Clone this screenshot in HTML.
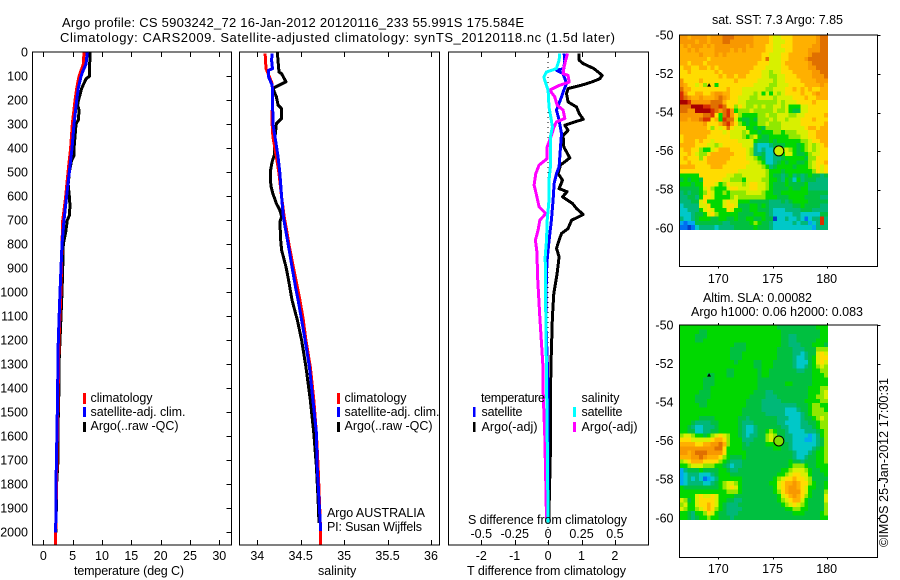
<!DOCTYPE html>
<html lang="en">
<head>
<meta charset="utf-8">
<title>Argo profile CS 5903242_72</title>
<style>
html,body{margin:0;padding:0;background:#fff;}
svg{display:block;}
text{font-family:"Liberation Sans",sans-serif;font-size:12.5px;fill:#000;}
text.big{font-size:13px;}
.frame{fill:none;stroke:#000;stroke-width:1.4;shape-rendering:crispEdges;}
</style>
</head>
<body>
<svg id="chart" xmlns="http://www.w3.org/2000/svg" width="900" height="580" viewBox="0 0 900 580">
<rect x="0" y="0" width="900" height="580" fill="#fff"/>
<text class="big" x="62" y="27" textLength="462" lengthAdjust="spacing">Argo profile: CS 5903242_72 16-Jan-2012 20120116_233 55.991S 175.584E</text>
<text class="big" x="60" y="42" textLength="555" lengthAdjust="spacing">Climatology: CARS2009. Satellite-adjusted climatology: synTS_20120118.nc (1.5d later)</text>
<text x="74" y="575" textLength="110" lengthAdjust="spacing">temperature (deg C)</text>
<text x="318" y="575">salinity</text>
<text x="467" y="575" textLength="159" lengthAdjust="spacing">T difference from climatology</text>
<text x="468" y="524" textLength="159" lengthAdjust="spacing">S difference from climatology</text>
<text x="327" y="517" textLength="98" lengthAdjust="spacing">Argo AUSTRALIA</text>
<text x="327" y="531" textLength="95" lengthAdjust="spacing">PI: Susan Wijffels</text>
<text x="712" y="24" textLength="131" lengthAdjust="spacing">sat. SST: 7.3 Argo: 7.85</text>
<text x="703" y="302" textLength="109" lengthAdjust="spacing">Altim. SLA: 0.00082</text>
<text x="691" y="316" textLength="172" lengthAdjust="spacing">Argo h1000: 0.06 h2000: 0.083</text>
<text transform="translate(888,547) rotate(-90)" x="0" y="0" textLength="169" lengthAdjust="spacing">©IMOS 25-Jan-2012 17:00:31</text>
<g id="legend1">
<rect x="83" y="393" width="3" height="11" fill="#f00"/>
<rect x="83" y="407" width="3" height="10" fill="#00f"/>
<rect x="83" y="422" width="3" height="10" fill="#000"/>
<text x="90.5" y="402" textLength="62" lengthAdjust="spacing">climatology</text>
<text x="90.5" y="416" textLength="95" lengthAdjust="spacing">satellite-adj. clim.</text>
<text x="90.5" y="430" textLength="88" lengthAdjust="spacing">Argo(..raw -QC)</text>
</g>
<g id="legend2">
<rect x="337" y="393" width="3" height="11" fill="#f00"/>
<rect x="337" y="407" width="3" height="10" fill="#00f"/>
<rect x="337" y="422" width="3" height="10" fill="#000"/>
<text x="344.5" y="402" textLength="62" lengthAdjust="spacing">climatology</text>
<text x="344.5" y="416" textLength="95" lengthAdjust="spacing">satellite-adj. clim.</text>
<text x="344.5" y="430" textLength="88" lengthAdjust="spacing">Argo(..raw -QC)</text>
</g>
<g id="legend3">
<text x="481" y="402" textLength="64" lengthAdjust="spacing">temperature</text>
<text x="581.5" y="402" textLength="38" lengthAdjust="spacing">salinity</text>
<rect x="473" y="407" width="2.5" height="10" fill="#00f"/>
<rect x="473" y="422" width="2.5" height="10" fill="#000"/>
<rect x="573" y="407" width="3" height="10" fill="#0ff"/>
<rect x="573" y="422" width="3" height="10" fill="#f0f"/>
<text x="481.5" y="416" textLength="41" lengthAdjust="spacing">satellite</text>
<text x="481.5" y="431" textLength="56" lengthAdjust="spacing">Argo(-adj)</text>
<text x="581.5" y="416" textLength="41" lengthAdjust="spacing">satellite</text>
<text x="581.5" y="431" textLength="56" lengthAdjust="spacing">Argo(-adj)</text>
</g>
</svg>
<script>
// ---- depth axis ----
const depthTicks = [0,100,200,300,400,500,600,700,800,900,1000,1100,1200,1300,1400,1500,1600,1700,1800,1900,2000];
// ---- temperature panel ----
const tempTicks = [0,5,10,15,20,25,30];
const tempArgoDepth = [0,100,110,150,200,220,240,280,300,350,400,430,450,500,550,600,640,680,700,750,800,900,1000,1100,1200,1300,1400,1500,1600,1700,1800,2000];
const tempArgo = [7.96,7.85,7.3,6.54,6.0,5.85,6.08,6.0,5.57,5.4,5.23,5.23,4.83,4.43,4.25,4.43,4.55,4.43,4.09,3.81,3.41,3.3,3.19,3.02,2.85,2.67,2.67,2.56,2.52,2.5,2.27,2.16];
const tempClimDepth = [0,50,100,150,200,300,400,500,600,700,800,1000,1200,2000,2050];
const tempClim = [6.93,6.82,6.08,5.69,5.4,4.94,4.66,4.21,3.81,3.3,3.19,3.0,2.67,2.11,2.11];
const tempSatDepth = [0,50,75,100,150,200,300,400,500,600,700,800,900,1000,1200,1500,1800,2000];
const tempSat = [7.5,7.27,6.8,6.42,5.97,5.69,5.23,4.89,4.43,3.98,3.52,3.19,3.02,2.85,2.56,2.39,2.16,2.11];
// ---- salinity panel ----
const salTicks = [34,34.5,35,35.5,36];
const salArgoDepth = [0,82,89,123,150,186,220,235,276,297,366,422,457,498,533,561,589,630,658,686,706,783,824,894,950,1032,1115,1199,1310,1448,1587,1726,1865,1962];
const salArgo = [34.23,34.25,34.28,34.33,34.18,34.22,34.24,34.28,34.28,34.22,34.20,34.20,34.17,34.15,34.15,34.16,34.18,34.22,34.26,34.28,34.26,34.27,34.28,34.33,34.36,34.40,34.46,34.51,34.56,34.61,34.65,34.68,34.70,34.71];
const salClimDepth = [5,68,103,130,158,297,352,436,505,602,686,727,810,894,977,1032,1115,1199,1310,1448,1587,1726,2004,2050];
const salClim = [34.09,34.10,34.14,34.17,34.175,34.17,34.18,34.22,34.25,34.28,34.31,34.33,34.37,34.415,34.46,34.49,34.53,34.56,34.61,34.65,34.68,34.70,34.73,34.73];
const salSatDepth = [5,33,68,75,103,137,158,297,366,436,505,602,686,727,810,894,977,1032,1115,1199,1310,1448,1587,1726,1865,1995];
const salSat = [34.17,34.165,34.175,34.13,34.13,34.17,34.175,34.18,34.21,34.24,34.26,34.28,34.30,34.32,34.36,34.40,34.44,34.47,34.51,34.55,34.60,34.64,34.68,34.69,34.71,34.73];
// ---- difference panel ----
const diffTTicks = [-2,-1,0,1,2];
const diffSTicks = [-0.5,-0.25,0,0.25,0.5];
const diffSTickLabels = ['-0.5','-0.25','0','0.25','0.5'];
const dTArgoDepth = [5,33,47,68,96,110,124,137,151,172,207,228,255,279,290,304,325,346,394,440,470,505,533,568,581,602,630,651,676,700,734,755,783,817,852,922,1005,1102,1324,1660,1950];
const dTArgo = [0.92,0.93,1.05,1.37,1.62,1.55,1.30,1.0,0.6,0.55,0.6,0.85,0.93,1.05,0.8,0.5,0.6,0.45,0.47,0.65,0.37,0.3,0.43,0.33,0.57,0.43,0.73,0.85,1.05,0.7,0.6,0.4,0.33,0.25,0.33,0.27,0.17,0.13,0.08,0.07,0.02];
const dTSatDepth = [5,33,68,75,89,130,158,186,241,283,339,394,477,505,547,616,700,783,852,922,1102,1400,1950];
const dTSat = [0.48,0.5,0.47,0.25,0.45,0.55,0.47,0.4,0.25,0.33,0.4,0.37,0.33,0.25,0.18,0.15,0.1,0.03,-0.02,-0.05,-0.07,0.0,0.0];
const dSSatDepth = [5,33,68,82,103,130,158,228,269,311,352,394,477,533,616,700,783,852,922,1102,1600,1960];
const dSSat = [0.087,0.082,0.062,-0.012,-0.032,-0.017,0,0.007,0.02,0.032,0.017,0.017,0.017,0.007,0.007,-0.007,-0.012,-0.022,-0.02,-0.017,-0.007,0];
const dSArgoDepth = [5,33,68,89,96,124,137,158,186,220,241,276,290,311,346,394,443,470,505,553,595,644,672,700,741,783,838,922,1005,1102,1324,1420,1601,1795,1945];
const dSArgo = [0.145,0.132,0.117,0.112,0.15,0.157,0.087,0.012,0.05,0.067,0.112,0.125,0.062,0.045,0.025,-0.007,-0.007,-0.067,-0.092,-0.105,-0.087,-0.067,-0.017,-0.062,-0.075,-0.095,-0.082,-0.08,-0.072,-0.062,-0.037,-0.037,-0.025,-0.017,-0.012];
// ---- maps ----
const lonTicks = [170,175,180];
const latTicks = [-50,-52,-54,-56,-58,-60];
const floatPosition = [175.584,-55.991];
const otherFloat = [169.15,-52.58];
const levelColors = ['#0040c8','#0070f0','#00a8f0','#00c8c8','#00b878','#00c040','#00d800','#90e800','#d8f000','#ffdc00','#ffb000','#f89800','#e07000','#d83000','#a80000'];
const sstRows = [
[11,11,10,11,11,11,11,10,11,11,11,12,12,12,11,11,11,11,11,10,10,10,10,9,8,8,9,9,9,10,10,10,10,10,10,11,12,12],
[11,11,11,11,10,11,11,10,11,11,11,12,12,11,11,11,11,11,11,10,10,10,10,9,8,8,8,9,9,10,10,10,10,10,10,11,12,12],
[10,11,10,11,11,11,10,11,10,11,11,11,11,11,11,11,11,10,11,10,10,10,9,9,8,8,9,9,9,10,10,10,10,10,11,11,12,12],
[10,10,11,10,11,10,10,10,10,11,11,11,11,10,11,10,11,10,10,10,10,10,9,9,8,8,8,9,9,10,10,10,10,11,11,11,12,12],
[10,10,10,10,10,11,10,10,10,11,10,11,10,10,10,10,10,10,10,10,10,9,9,8,8,8,9,9,10,10,10,10,10,11,12,12,12,12],
[10,10,10,10,10,10,10,9,10,10,10,10,10,10,10,10,10,10,10,10,10,9,12,8,8,8,9,9,10,10,10,10,11,12,12,12,12,12],
[10,10,9,10,10,10,9,10,10,10,10,10,10,10,10,10,10,10,10,10,9,9,9,8,8,8,9,10,10,10,10,10,10,11,12,12,12,12],
[9,10,10,9,9,10,10,9,10,9,10,10,10,10,10,10,10,10,10,9,9,9,8,8,8,8,9,9,10,10,10,10,10,11,11,12,12,12],
[9,9,10,9,9,9,9,9,9,10,9,10,10,10,10,10,10,10,9,9,9,8,8,7,8,8,9,9,9,10,10,10,10,10,11,11,12,12],
[9,9,9,9,9,9,9,9,9,9,10,9,10,10,9,10,10,9,9,9,9,8,8,7,7,8,8,9,9,9,10,10,10,10,11,11,11,12],
[11,9,9,9,9,10,9,9,9,9,9,9,9,9,10,9,9,9,9,9,8,8,8,8,7,8,8,9,9,9,9,10,10,10,10,11,11,11],
[11,10,9,9,8,9,7,9,9,6,9,9,9,9,9,9,9,9,9,8,8,8,8,7,7,8,8,8,9,9,9,9,10,10,10,10,11,10],
[12,10,10,9,9,9,9,9,9,9,9,9,10,9,9,9,8,8,8,8,8,8,7,7,8,8,8,9,9,10,9,10,9,10,9,9,10,10],
[13,11,9,9,10,10,9,9,10,11,11,10,10,9,9,9,8,8,8,7,8,6,8,6,8,7,8,9,9,9,9,10,9,9,10,11,10,10],
[13,12,11,10,10,11,10,10,10,11,12,11,10,9,9,8,8,8,7,7,8,8,8,8,7,8,8,8,8,9,9,9,10,9,9,10,10,10],
[14,14,13,11,11,11,11,11,12,12,12,10,9,9,9,8,8,7,7,7,7,7,7,7,7,8,7,8,8,8,9,9,9,9,10,9,9,9],
[12,12,12,14,14,14,13,13,12,12,13,12,9,9,7,9,8,7,7,8,7,8,7,7,8,8,7,8,6,6,6,8,8,9,9,9,9,9],
[12,12,11,11,14,14,14,14,13,12,11,12,13,11,6,7,7,7,8,7,7,7,7,7,8,7,7,8,6,5,5,8,8,9,9,9,9,9],
[11,11,11,11,11,11,12,12,13,9,6,12,13,11,9,7,6,6,6,6,7,7,8,7,7,8,8,8,7,7,8,8,9,9,9,9,9,10],
[11,11,10,11,11,12,13,13,9,10,6,13,12,12,8,6,5,5,6,5,7,7,7,8,7,8,8,7,8,8,8,9,9,9,10,9,9,9],
[10,10,10,10,10,10,11,9,9,9,10,12,13,11,9,7,6,5,6,6,7,7,8,7,7,7,8,8,8,8,8,9,9,9,9,9,9,10],
[10,10,10,10,10,10,10,9,7,9,8,9,12,9,8,8,8,6,6,5,6,5,7,7,7,7,8,8,8,8,8,8,9,10,10,9,10,10],
[10,10,10,10,10,10,10,10,9,9,9,8,9,8,8,8,7,8,6,6,5,6,6,6,7,7,6,7,7,7,8,8,8,9,9,10,10,10],
[9,10,10,10,10,10,10,9,9,9,9,9,9,8,8,8,7,6,7,8,6,5,5,6,6,6,6,6,7,7,7,8,8,9,9,10,10,10],
[9,10,10,10,9,10,9,9,8,9,9,9,9,9,9,8,8,8,8,6,5,5,5,6,5,6,6,6,6,6,6,7,7,8,9,9,10,10],
[10,10,10,10,9,9,9,8,8,7,8,9,9,9,9,9,8,8,8,4,3,3,3,4,5,5,5,6,6,6,5,6,7,8,7,8,9,10],
[9,10,10,9,9,7,6,6,8,9,10,10,10,9,9,9,9,8,7,4,3,4,3,3,5,5,7,8,7,6,5,6,7,8,7,8,9,9],
[9,9,10,9,8,7,7,9,10,10,10,10,10,10,9,9,9,8,7,4,4,5,3,3,4,5,6,8,8,6,5,5,6,7,8,8,9,9],
[9,10,9,9,9,7,9,10,10,10,10,10,10,9,9,9,9,8,8,7,6,5,3,3,4,4,5,6,6,6,6,6,5,7,7,9,9,9],
[9,9,10,9,9,9,9,10,10,10,10,10,9,9,9,9,9,9,8,8,7,6,3,3,4,5,6,5,6,6,5,5,6,7,8,9,9,10],
[10,10,10,10,9,9,9,9,10,10,10,9,9,9,9,9,9,8,8,8,8,7,6,4,5,6,6,6,6,5,6,6,6,7,8,9,8,9],
[9,9,9,9,9,9,9,9,9,9,9,9,9,9,9,8,8,8,8,8,8,8,7,6,6,6,5,6,6,6,6,6,6,6,7,9,8,9],
[6,6,6,6,6,9,9,9,9,9,9,9,8,8,7,7,8,8,8,8,8,8,7,6,5,5,4,5,6,4,5,4,5,6,5,5,4,5],
[5,6,5,6,6,5,9,9,9,9,9,8,8,7,7,7,6,8,8,8,8,7,7,6,6,5,4,6,5,3,6,4,5,5,5,4,4,4],
[6,6,6,5,6,6,9,9,9,8,6,7,9,8,8,8,7,8,9,9,8,8,7,6,5,5,5,6,5,5,5,5,6,4,4,4,4,4],
[5,5,5,5,5,6,8,9,7,6,6,6,8,9,9,8,8,8,9,9,8,8,7,6,5,5,5,5,6,5,5,6,6,4,4,4,4,4],
[4,5,4,5,5,6,7,9,8,6,6,7,6,7,7,7,7,8,8,8,8,7,6,6,5,5,6,6,6,6,6,6,6,5,5,5,5,5],
[4,4,5,5,4,6,9,9,8,6,6,6,6,7,8,7,7,7,7,7,7,7,6,6,6,5,5,5,6,6,6,6,5,5,5,5,4,4],
[4,4,4,5,5,8,9,6,6,6,6,8,9,8,8,6,6,6,5,5,5,5,5,4,4,4,5,4,5,6,6,6,6,5,5,5,5,5],
[3,4,4,4,4,8,8,9,6,6,6,8,9,9,8,5,5,5,6,6,5,6,5,4,4,4,4,4,4,5,5,6,5,5,5,5,4,4],
[3,3,4,4,4,6,8,9,8,6,6,6,9,8,6,6,5,5,6,6,5,5,5,4,3,3,3,4,4,4,4,5,5,5,4,4,4,4],
[3,3,3,4,5,5,6,8,9,7,6,6,6,6,6,5,5,5,5,6,6,6,5,4,3,3,3,3,3,4,4,3,3,3,3,3,5,5],
[4,3,3,4,5,6,6,6,5,5,6,6,5,5,6,5,5,6,6,5,5,6,5,5,0,3,3,4,3,3,4,3,1,3,4,4,13,4],
[2,1,2,2,5,5,5,5,5,5,5,4,4,5,5,5,5,5,6,7,6,5,5,4,3,3,3,3,3,4,3,4,4,2,3,4,13,4],
[1,1,0,1,3,4,4,4,4,3,4,4,4,4,5,5,5,5,5,6,5,5,5,4,3,3,3,3,3,3,3,3,3,3,2,4,4,4]
];
const slaRows = [
[6,6,6,6,6,6,6,6,6,6,6,6,6,6,6,6,6,6,6,6,6,6,6,6,6,5,5,5,5,5,5,5,5,5,5,6,6,6],
[6,6,6,6,6,5,5,6,6,6,6,6,6,6,6,6,6,6,6,6,6,6,6,6,6,6,5,5,5,5,5,5,5,5,5,5,6,6],
[6,6,6,6,5,5,5,6,6,6,6,6,6,6,6,6,6,6,6,6,6,6,6,6,6,6,5,5,4,4,5,5,5,5,5,5,6,6],
[6,6,6,6,5,5,6,6,6,6,6,6,6,6,6,6,6,6,6,6,6,6,6,6,6,6,5,5,4,4,5,5,5,5,5,6,6,6],
[6,6,6,6,6,6,6,6,6,6,6,6,6,6,5,5,5,6,6,6,6,6,6,6,6,6,5,5,4,4,4,5,5,5,6,6,6,5],
[6,6,6,6,6,6,6,6,6,6,6,6,6,5,5,5,5,6,6,6,6,6,6,6,6,5,5,5,5,4,4,4,5,5,5,7,7,7],
[6,6,6,6,6,6,6,6,6,6,6,6,6,5,5,5,6,6,6,6,6,6,6,6,6,5,5,5,5,4,4,3,4,5,5,8,9,8],
[6,6,6,6,6,6,6,6,6,6,6,6,6,5,5,5,6,6,6,6,6,6,6,6,6,5,5,5,5,4,3,3,4,5,6,8,9,9],
[6,6,6,6,6,6,6,6,6,6,6,6,6,6,5,6,6,6,6,5,5,6,6,6,5,5,5,5,5,4,3,3,3,5,6,8,9,8],
[6,6,6,6,6,6,6,6,6,6,6,6,6,6,6,6,6,6,6,5,5,6,6,6,5,5,5,5,5,4,3,3,4,5,6,7,8,7],
[6,6,6,6,6,6,6,6,6,6,6,6,5,5,6,6,6,6,6,6,5,6,6,5,5,5,5,5,5,5,4,4,5,5,6,6,7,7],
[6,6,6,6,6,6,6,5,5,6,6,6,5,5,6,6,6,6,6,6,5,6,6,5,5,5,5,5,5,5,5,5,5,5,6,6,6,7],
[6,6,6,6,6,6,5,5,5,6,6,6,6,6,6,6,6,6,6,6,5,5,5,5,5,5,5,5,5,5,5,5,5,5,6,6,6,6],
[6,6,6,6,6,6,5,5,5,6,6,6,6,6,6,6,6,6,6,6,5,5,5,5,5,5,5,6,6,5,5,5,5,5,6,6,6,6],
[6,6,6,6,6,6,5,5,6,6,6,6,6,6,6,6,6,6,6,6,5,5,5,5,5,5,5,5,5,5,5,5,5,6,6,6,7,7],
[6,6,6,6,6,5,5,5,6,6,6,6,6,6,6,6,6,6,6,5,5,5,4,4,5,5,5,5,5,5,5,5,5,6,6,6,7,8],
[6,6,6,6,5,5,5,5,6,6,6,6,6,6,6,6,6,6,5,5,5,5,4,4,4,5,5,5,5,5,5,5,5,6,6,7,7,8],
[6,6,6,6,5,5,5,6,6,6,6,6,6,6,6,6,6,5,5,5,5,4,4,4,4,4,5,5,5,5,5,5,6,6,6,6,7,7],
[6,6,6,6,6,5,5,6,6,6,6,6,6,6,6,6,6,5,5,5,5,4,4,4,4,4,4,4,4,4,5,5,5,6,7,7,6,6],
[6,6,6,6,6,6,6,6,6,6,6,6,6,6,6,6,5,5,5,5,5,4,4,4,4,4,4,3,3,3,4,5,5,6,7,7,7,6],
[6,6,6,6,6,6,6,6,6,6,6,6,6,6,6,6,5,5,5,5,5,5,4,4,4,4,4,3,3,3,3,4,5,6,7,7,7,7],
[6,6,6,6,6,5,5,5,5,6,6,6,6,6,6,5,5,4,5,5,5,5,5,5,5,4,4,4,3,3,3,4,5,5,6,7,8,7],
[6,6,6,5,4,4,4,4,5,5,6,6,6,6,6,5,4,4,4,5,5,5,5,5,5,4,4,3,3,3,3,4,4,5,5,6,7,7],
[6,6,5,4,3,3,4,4,4,5,6,6,6,6,6,5,4,3,3,4,5,5,5,5,5,5,4,4,3,3,3,4,4,4,5,6,7,7],
[6,6,5,5,3,3,4,4,5,5,6,6,6,6,6,5,4,3,3,4,5,5,6,7,6,5,5,4,3,3,3,3,4,4,4,5,6,7],
[7,8,8,7,6,6,5,6,7,8,9,8,7,6,6,5,4,3,4,4,5,5,7,8,7,5,5,4,4,3,3,3,3,2,3,4,6,7],
[9,9,9,8,8,8,8,8,9,10,10,9,7,6,6,6,4,4,4,5,5,5,7,8,7,6,5,4,4,3,3,3,2,2,3,4,5,7],
[10,10,10,10,9,9,10,10,11,11,12,10,7,6,6,6,5,4,5,5,5,5,6,6,6,6,5,5,4,3,3,3,3,3,3,4,5,7],
[11,11,11,11,11,11,11,11,11,12,12,9,6,6,6,6,5,5,5,5,5,5,5,5,6,6,5,5,4,3,3,3,3,3,4,5,6,7],
[11,11,10,11,12,12,12,11,11,11,11,9,6,6,6,6,6,5,5,5,5,5,5,5,5,5,5,5,5,4,3,3,3,4,5,6,6,7],
[10,10,10,11,11,12,11,10,10,10,9,7,6,5,5,5,6,5,5,5,5,5,5,5,5,5,5,5,5,4,3,3,4,5,5,6,6,7],
[7,8,9,10,10,10,9,9,9,9,7,6,5,4,4,4,5,5,5,5,5,5,5,5,5,5,5,5,6,5,5,4,5,5,5,6,6,7],
[6,6,7,8,8,8,7,7,7,6,6,5,4,3,4,4,5,5,5,5,5,5,5,5,5,5,5,5,6,7,7,7,6,5,5,6,6,6],
[2,4,5,5,5,6,5,5,5,5,6,6,5,4,4,5,5,5,5,5,5,5,5,5,5,5,6,6,7,8,8,8,7,6,5,5,6,6],
[2,3,4,4,4,3,3,3,4,5,6,6,6,5,5,5,5,5,5,5,5,5,5,5,5,6,6,7,8,9,9,8,8,6,5,5,5,6],
[2,3,4,3,4,3,1,2,3,4,6,6,6,6,6,6,5,5,5,5,5,5,5,5,6,7,8,9,9,10,9,9,8,7,5,5,5,5],
[2,3,4,4,4,4,3,3,4,5,6,7,8,8,7,6,5,5,5,5,5,5,5,6,6,8,9,10,10,11,10,9,9,7,6,5,5,6],
[6,5,5,5,5,5,5,5,5,5,6,7,8,9,8,6,5,5,5,5,5,5,5,5,6,8,9,10,11,11,10,9,8,6,6,5,5,6],
[6,6,6,6,6,6,6,6,6,6,6,6,7,7,7,6,5,5,5,5,5,5,5,5,6,7,9,10,11,11,11,9,8,6,5,5,5,7],
[6,6,6,6,8,9,8,8,9,8,6,6,6,6,5,5,5,5,5,5,5,5,5,5,5,6,8,9,10,11,10,9,7,6,5,5,5,8],
[8,7,5,6,8,9,9,9,9,8,6,6,5,5,4,4,5,5,5,5,5,5,5,5,5,6,7,8,9,10,10,8,6,5,5,5,5,8],
[7,8,6,6,8,9,9,10,9,8,6,5,4,4,4,5,5,5,5,5,5,5,5,5,5,5,6,7,8,9,8,7,6,5,5,5,5,7],
[8,7,6,6,7,8,9,10,9,7,6,5,4,4,4,4,5,5,5,5,5,5,5,5,5,5,5,6,6,7,7,6,6,5,5,5,5,7],
[6,6,5,4,6,6,7,9,8,6,5,5,4,4,4,5,5,5,5,5,5,5,5,5,5,5,5,5,5,6,6,6,5,5,5,5,6,7],
[6,6,5,4,5,6,6,7,6,6,5,5,5,4,5,5,5,5,5,5,5,5,5,5,5,5,5,5,5,5,5,5,5,5,5,5,6,6]
];

const NS = 'http://www.w3.org/2000/svg';
const svg = document.getElementById('chart');
function make(tag, attrs, parent) {
  const e = document.createElementNS(NS, tag);
  for (const k in attrs) e.setAttribute(k, attrs[k]);
  (parent || svg).appendChild(e);
  return e;
}
function linear(d0, d1, r0, r1) {
  return function (v) { return r0 + (v - d0) * (r1 - r0) / (d1 - d0); };
}
const yDepth = linear(0, 2000, 52.3, 532.3);
const P1 = {l:32.5, r:231.5, t:52, b:545};
const P2 = {l:239.5, r:439.5, t:52, b:545};
const P3 = {l:448.5, r:648.5, t:52, b:545};
const xTemp = linear(0, 30, 43.3, 219.3);
const xSal = linear(34, 36, 257.3, 431);
const xDT = linear(-2, 2, 481.3, 614.9);
const xDS = linear(-0.5, 0.5, 481.3, 614.9);

function drawFrame(p, name) {
  const f = make('rect', {x:p.l, y:p.t, width:p.r-p.l, height:p.b-p.t, 'class':'frame'});
  
  
}
function tickLine(x1, y1, x2, y2, name) {
  const t = make('line', {x1:x1, y1:y1, x2:x2, y2:y2, stroke:'#000', 'stroke-width':1, 'shape-rendering':'crispEdges'});
  
  
}
function tickText(x, y, label, anchor, name) {
  const t = make('text', {x:x, y:y, 'text-anchor':anchor});
  t.textContent = label;
  
  
}
function drawXTicks(p, ticks, labels, scale, labelY, name) {
  ticks.forEach(function (v, i) {
    const x = Math.round(scale(v)) + 0.5;
    tickLine(x, p.t, x, p.t + 5, name + '-tick');
    tickLine(x, p.b - 5, x, p.b, name + '-tick');
    if (labels) tickText(scale(v), labelY, labels[i], 'middle', name + '-label');
  });
}
function drawSeries(depths, values, scale, color, width, name) {
  const pts = depths.map(function (d, i) { return scale(values[i]).toFixed(1) + ',' + yDepth(d).toFixed(1); }).join(' ');
  const s = make('polyline', {points:pts, fill:'none', stroke:color, 'stroke-width':width, 'stroke-linejoin':'round', 'shape-rendering':'crispEdges'});
  
  
}

// temperature panel
drawSeries(tempArgoDepth, tempArgo, xTemp, '#000', 3, 'temperature-argo-line');
drawSeries(tempClimDepth, tempClim, xTemp, '#f00', 3, 'temperature-climatology-line');
drawSeries(tempSatDepth, tempSat, xTemp, '#00f', 3, 'temperature-satellite-line');
drawFrame(P1, 'temperature-panel-frame');
drawXTicks(P1, tempTicks, tempTicks, xTemp, 560, 'temperature-x-axis');
depthTicks.forEach(function (d) {
  const y = Math.round(yDepth(d)) + 0.5;
  if (d > 0) tickLine(P1.r - 5, y, P1.r, y, 'depth-axis-tick');
  tickText(28, yDepth(d) + 4, d, 'end', 'depth-axis-label');
});

// salinity panel
drawSeries(salArgoDepth, salArgo, xSal, '#000', 3, 'salinity-argo-line');
drawSeries(salClimDepth, salClim, xSal, '#f00', 3, 'salinity-climatology-line');
drawSeries(salSatDepth, salSat, xSal, '#00f', 3, 'salinity-satellite-line');
drawFrame(P2, 'salinity-panel-frame');
drawXTicks(P2, salTicks, salTicks, xSal, 560, 'salinity-x-axis');

// difference panel
const zeroLine = make('line', {x1:xDT(0), y1:P3.t, x2:xDT(0), y2:P3.b, stroke:'#000', 'stroke-width':1, 'stroke-dasharray':'1 4', 'shape-rendering':'crispEdges'});


drawSeries(dTArgoDepth, dTArgo, xDT, '#000', 3, 'temperature-difference-argo-line');
drawSeries(dTSatDepth, dTSat, xDT, '#00f', 3, 'temperature-difference-satellite-line');
drawSeries(dSArgoDepth, dSArgo, xDS, '#f0f', 3, 'salinity-difference-argo-line');
drawSeries(dSSatDepth, dSSat, xDS, '#0ff', 3, 'salinity-difference-satellite-line');
drawFrame(P3, 'difference-panel-frame');
drawXTicks(P3, diffTTicks, diffTTicks, xDT, 560, 'temperature-difference-x-axis');
diffSTicks.forEach(function (v, i) {
  tickText(xDS(v), 538, diffSTickLabels[i], 'middle', 'salinity-difference-tick-label');
});

// maps
function drawMap(rows, box, yLat, imgBottomLat, name, markerFill, labelY) {
  const xLon = linear(170, 180, 718.3, 826.7);
  const lonLeft = 166.42, lonRight = 180.09;
  const nRows = rows.length;
  rows.forEach(function (row, r) {
    const n = row.length;
    row.forEach(function (v, c) {
      const x0 = xLon(lonLeft + (lonRight - lonLeft) * c / n);
      const x1 = xLon(lonLeft + (lonRight - lonLeft) * (c + 1) / n);
      const y0 = yLat(-50 + (imgBottomLat + 50) * r / nRows);
      const y1 = yLat(-50 + (imgBottomLat + 50) * (r + 1) / nRows);
      const cell = make('rect', {x:x0.toFixed(2), y:y0.toFixed(2), width:(x1 - x0 + 0.3).toFixed(2), height:(y1 - y0 + 0.3).toFixed(2), fill:levelColors[v], 'shape-rendering':'crispEdges'});
      
      
    });
  });
  const blob = make('polygon', {points:[
    (xLon(otherFloat[0]) - 2) + ',' + (yLat(otherFloat[1]) + 1.5),
    (xLon(otherFloat[0])) + ',' + (yLat(otherFloat[1]) - 2),
    (xLon(otherFloat[0]) + 2) + ',' + (yLat(otherFloat[1]) + 1.5)].join(' '), fill:'#000'});
  
  
  const circle = make('circle', {cx:xLon(floatPosition[0]), cy:yLat(floatPosition[1]), r:5, fill:markerFill, stroke:'#000', 'stroke-width':1});
  
  
  drawFrame(box, name + '-frame');
  lonTicks.forEach(function (v) {
    const x = Math.round(xLon(v)) + 0.5;
    tickLine(x, box.t - 2, x, box.t, name + '-lon-tick');
    tickLine(x, box.b, x, box.b + 2, name + '-lon-tick');
    tickText(xLon(v), labelY, v, 'middle', name + '-lon-label');
  });
  latTicks.forEach(function (v) {
    const y = Math.round(yLat(v)) + 0.5;
    tickLine(box.r, y, box.r + 3, y, name + '-lat-tick');
    tickText(673.5, yLat(v) + 4, v, 'end', name + '-lat-label');
  });
}
const yLat1 = linear(-50, -60, 35.3, 228.3);
const yLat2 = linear(-50, -60, 325.4, 518.3);
drawMap(sstRows, {l:679.5, r:877.5, t:35, b:266.5}, yLat1, -60.06, 'sst-map', '#c8f000', 283);
drawMap(slaRows, {l:679.5, r:877.5, t:325, b:557.5}, yLat2, -60.08, 'sla-map', '#80e000', 573);

// text and legends sit above the plotted lines
Array.from(svg.querySelectorAll(':scope > g')).forEach(function (g) { svg.appendChild(g); });
Array.from(svg.querySelectorAll(':scope > text')).forEach(function (t) { svg.appendChild(t); });
</script>
</body>
</html>
